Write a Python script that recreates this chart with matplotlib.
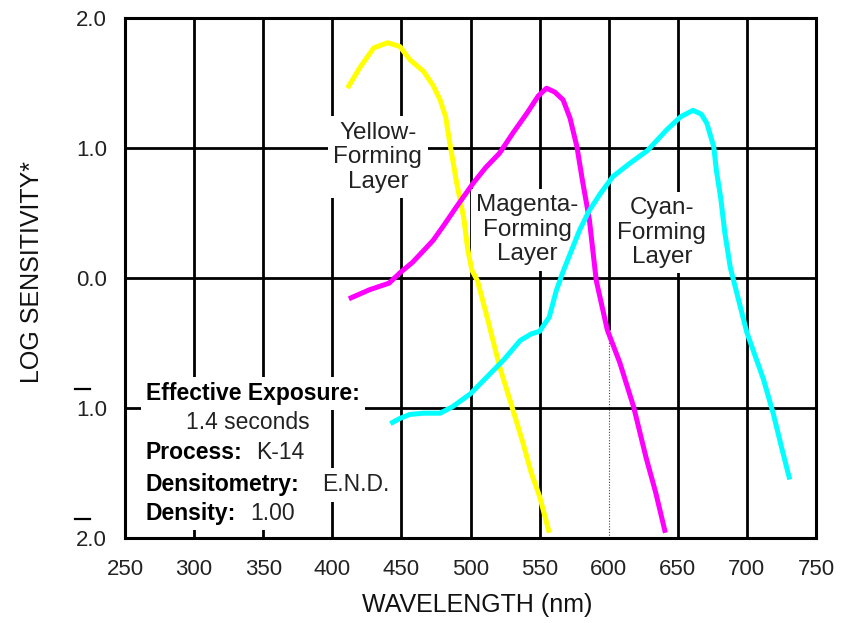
import matplotlib
matplotlib.use("Agg")
import matplotlib.pyplot as plt
import matplotlib.transforms as mtransforms

plt.rcParams["font.family"] = ["Liberation Sans", "DejaVu Sans"]

# wavelength (nm) / log sensitivity
yellow_x = [411, 420, 430, 440, 449, 456, 466, 473, 478, 482, 485, 490, 495, 498,
            501, 505, 512, 521, 530, 538, 544, 550, 557]
yellow_y = [1.46, 1.62, 1.77, 1.81, 1.78, 1.68, 1.59, 1.48, 1.37, 1.24, 1.04, 0.73,
            0.47, 0.22, 0.06, -0.02, -0.30, -0.68, -0.99, -1.27, -1.50, -1.68, -1.96]

magenta_x = [412, 427, 441, 449, 458, 466, 473, 481, 490, 502, 511, 521, 531, 541,
             549, 555, 561, 567, 572, 577, 581, 586, 591, 599, 608, 618, 627, 634, 641]
magenta_y = [-0.16, -0.09, -0.04, 0.04, 0.12, 0.21, 0.29, 0.41, 0.55, 0.73, 0.85,
             0.96, 1.12, 1.27, 1.40, 1.46, 1.43, 1.37, 1.23, 1.01, 0.75, 0.45, -0.02,
             -0.40, -0.65, -0.99, -1.38, -1.65, -1.96]

cyan_x = [442, 449, 456, 466, 478, 487, 500, 512, 524, 536, 544, 550, 557, 562, 567,
          573, 579, 586, 594, 603, 615, 628, 642, 652, 661, 667, 671, 676, 678, 681,
          684, 688, 694, 700, 706, 712, 719, 725, 731]
cyan_y = [-1.12, -1.08, -1.05, -1.04, -1.04, -0.99, -0.89, -0.76, -0.63, -0.48,
          -0.43, -0.41, -0.30, -0.10, 0.05, 0.21, 0.37, 0.52, 0.65, 0.78, 0.88, 0.98,
          1.14, 1.24, 1.29, 1.26, 1.19, 1.01, 0.82, 0.62, 0.35, 0.08, -0.17, -0.42,
          -0.60, -0.78, -1.04, -1.30, -1.55]

x_ticks = [250, 300, 350, 400, 450, 500, 550, 600, 650, 700, 750]
y_ticks = [-2, -1, 0, 1, 2]
y_ticklabels = ["2.0", "1.0", "0.0", "1.0", "2.0"]  # negatives get a bar on top
dotted_x = 600
dotted_below = -0.4

fig = plt.figure(figsize=(8.55, 6.23), dpi=100)
ax = fig.add_axes([125 / 855, 85 / 623, 691 / 855, 520 / 623])
ax.set_xlim(250, 750)
ax.set_ylim(-2, 2)

# grid
for gx in x_ticks[1:-1]:
    if gx == dotted_x:
        ax.vlines(gx, dotted_below, 2, color="black", lw=2, zorder=1)
        ax.vlines(gx, -2, dotted_below, color="#444444", lw=0.8,
                  linestyles=(0, (1, 1.5)), zorder=1)
    else:
        ax.vlines(gx, -2, 2, color="black", lw=2, zorder=1)
ax.hlines(y_ticks[1:-1], 250, 750, color="black", lw=2, zorder=1)

for s in ax.spines.values():
    s.set_linewidth(2.2)

ax.set_xticks(x_ticks)
ax.set_yticks(y_ticks)
ax.set_yticklabels(y_ticklabels)
ax.tick_params(length=0, labelsize=16, labelcolor="#222222")
ax.tick_params(axis="x", pad=15)
ax.tick_params(axis="y", pad=13)

# bars over the negative characteristics
bar_tr = mtransforms.blended_transform_factory(fig.transFigure, ax.transData) + \
    mtransforms.ScaledTranslation(0, 0.19, fig.dpi_scale_trans)
for v in y_ticks:
    if v < 0:
        ax.plot([75 / 855, 90 / 855], [v, v], color="black", lw=1.6,
                transform=bar_tr, clip_on=False)

ax.set_xlabel("WAVELENGTH (nm)", fontsize=18, color="#111111", va="center")
ax.set_ylabel("LOG SENSITIVITY*", fontsize=18, color="#111111", va="center")
ax.xaxis.set_label_coords((477 - 125) / 691, (538 - 605) / 520)
ax.yaxis.set_label_coords((32 - 125) / 691, (538 - 272) / 520)

# curves
for cx, cy, col in [(yellow_x, yellow_y, "#FFFF00"),
                    (magenta_x, magenta_y, "#FF00FF"),
                    (cyan_x, cyan_y, "#00FFFF")]:
    ax.plot(cx, cy, color=col, lw=3.6, zorder=4,
            solid_capstyle="butt", solid_joinstyle="round")

box = dict(boxstyle="square,pad=0.22", facecolor="white", edgecolor="none")
lbl = dict(ha="center", va="center", fontsize=17.5, color="#222222",
           linespacing=1.15, bbox=box, zorder=3)
ax.text(433, 0.93, "Yellow-\nForming\nLayer", **lbl)
ax.text(541, 0.37, "Magenta-\nForming\nLayer", **lbl)
ax.text(638.5, 0.35, "Cyan-\nForming\nLayer", **lbl)

info = dict(va="center", ha="left", fontsize=16.5, bbox=box, zorder=3)
ax.text(265, -0.885, "Effective Exposure:", weight="bold", color="black", **info)
ax.text(294, -1.108, "1.4 seconds", color="#222222", **info)
ax.text(265, -1.346, "Process:", weight="bold", color="black", **info)
ax.text(345, -1.346, "K-14", color="#222222", **info)
ax.text(265, -1.592, "Densitometry:", weight="bold", color="black", **info)
ax.text(392.5, -1.592, "E.N.D.", color="#222222", **info)
ax.text(265, -1.808, "Density:", weight="bold", color="black", **info)
ax.text(340.5, -1.808, "1.00", color="#222222", **info)

fig.savefig("out.png", dpi=100)
